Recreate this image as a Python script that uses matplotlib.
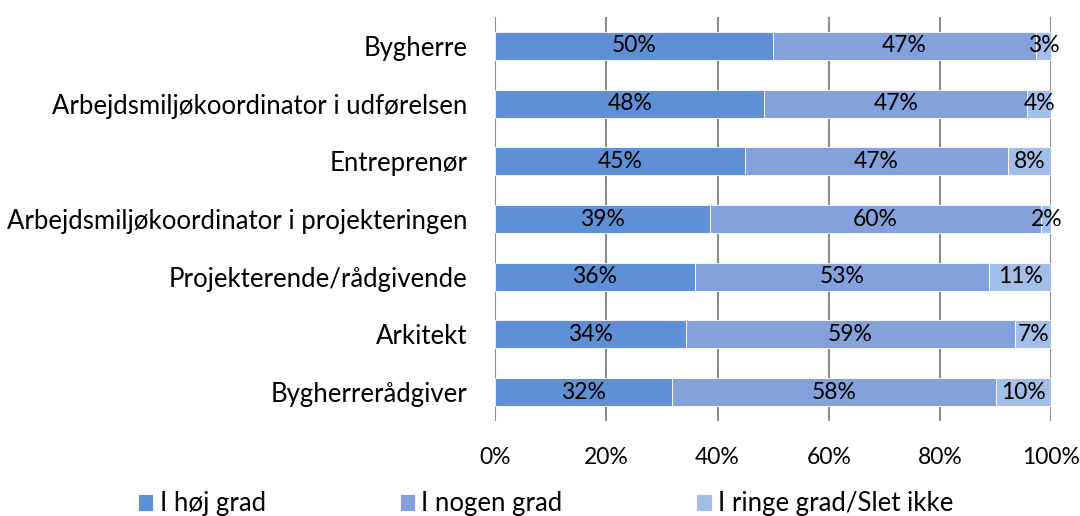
import matplotlib
matplotlib.use("Agg")
import matplotlib.pyplot as plt
import numpy as np

plt.rcParams['font.family'] = ['Lato', 'DejaVu Sans']

categories = ["Bygherre", "Arbejdsmiljøkoordinator i udførelsen", "Entreprenør",
              "Arbejdsmiljøkoordinator i projekteringen", "Projekterende/rådgivende",
              "Arkitekt", "Bygherrerådgiver"]
series_names = ["I høj grad", "I nogen grad", "I ringe grad/Slet ikke"]
hoej = [50.0, 48.4, 44.9, 38.6, 35.9, 34.4, 31.8]
nogen = [47.2, 47.2, 47.3, 59.6, 52.9, 59.0, 58.2]
ringe = [2.8, 4.4, 7.8, 1.8, 11.2, 6.6, 10.0]
xticks = [0, 20, 40, 60, 80, 100]
xticklabels = ["0%", "20%", "40%", "60%", "80%", "100%"]
colors = ["#5f8fd5", "#84a1dc", "#a3bfe9"]

fig = plt.figure(figsize=(10.8, 5.16), dpi=100)
ax = fig.add_axes([495/1080, 1-421/516, 556.5/1080, 404/516])

y = np.arange(len(categories))
left = np.zeros(len(categories))
fs_cat = 18.5
fs_val = 16.5
for vals, col, name in zip([hoej, nogen, ringe], colors, series_names):
    vals = np.array(vals)
    ax.barh(y, vals, left=left, height=0.485, color=col, label=name,
            edgecolor='white', linewidth=0.6, zorder=3)
    for yi, l, v in zip(y, left, vals):
        ax.text(l + v/2, yi, f"{round(v):d}%", ha='center', va='center',
                fontsize=fs_val, color='black', zorder=4)
    left = left + vals

ax.set_xlim(0, 100)
ax.set_ylim(len(categories)-0.5, -0.5)
ax.set_yticks(y)
ax.set_yticklabels(categories, fontsize=fs_cat)
ax.set_xticks(xticks)
ax.set_xticklabels(xticklabels, fontsize=fs_val)
ax.tick_params(axis='y', length=0, pad=20)
ax.tick_params(axis='x', length=0, pad=19)
ax.grid(axis='x', color='#8c8c8c', linewidth=1.5, zorder=0)
for s in ax.spines.values():
    s.set_visible(False)

handles, labels = ax.get_legend_handles_labels()
fig.legend(handles, labels, loc='center left', bbox_to_anchor=(138/1080, 1-504/516),
           ncol=3, frameon=False, fontsize=fs_cat, handlelength=0.6, handleheight=0.6,
           handletextpad=0.25, columnspacing=5.2, borderpad=0, borderaxespad=0)

fig.savefig("out.png", dpi=100)
